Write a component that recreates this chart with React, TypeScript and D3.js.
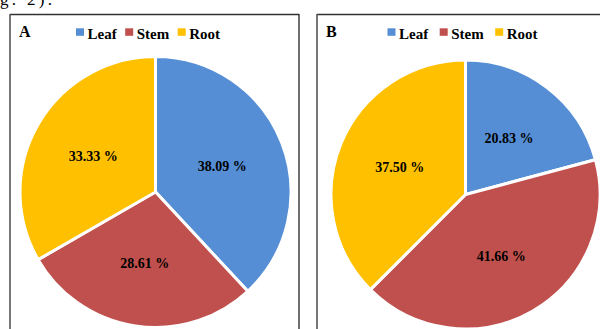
import React from "react";
import * as d3 from "d3";

const categories = ["Leaf", "Stem", "Root"];
const valuesA = [38.09, 28.61, 33.33];
const valuesB = [20.83, 41.66, 37.5];
const colors = ["#558ED5", "#C0504D", "#FFC000"];

const W = 600;
const H = 329;
const FONT = "'Liberation Serif', 'Times New Roman', serif";

type PanelProps = {
  letter: string;
  values: number[];
  left: number;
  right: number;
  cx: number;
  cy: number;
  r: number;
  legendX: number;
  legendGap: number;
};

const textW = (s: string) => {
  // approximate width of bold 15px serif text
  const m: Record<string, number> = { L: 10, e: 6.7, a: 7.5, f: 5, S: 8.3, t: 5, m: 12.5, R: 10.8, o: 7.5 };
  return s.split("").reduce((acc, c) => acc + (m[c] ?? 7.5), 0);
};

function Panel({ letter, values, left, right, cx, cy, r, legendX, legendGap }: PanelProps) {
  const pie = d3.pie<number>().sort(null).value((d) => d).startAngle(0).endAngle(2 * Math.PI);
  const arcs = pie(values);
  const arc = d3.arc<d3.PieArcDatum<number>>().innerRadius(0).outerRadius(r);
  const labelArc = d3.arc<d3.PieArcDatum<number>>().innerRadius(r * 0.53).outerRadius(r * 0.53);
  const fmt = d3.format(".2f");

  let lx = legendX;
  const legendItems = categories.map((c, i) => {
    const x = lx;
    lx += 12 + textW(c) + legendGap;
    return { c, i, x };
  });

  return (
    <g>
      <line x1={left} x2={right} y1={14.5} y2={14.5} stroke="#333" strokeWidth={1.3} />
      <line x1={left} x2={left} y1={14} y2={H} stroke="#555" strokeWidth={1.6} />
      <line x1={right} x2={right} y1={14} y2={H} stroke="#222" strokeWidth={1.3} />
      <text x={left + 9} y={37} fontFamily={FONT} fontWeight="bold" fontSize={16} fill="#000">
        {letter}
      </text>
      {legendItems.map(({ c, i, x }) => (
        <g key={c}>
          <rect x={x} y={28.3} width={8} height={7.5} fill={colors[i]} />
          <text x={x + 11.5} y={38.5} fontFamily={FONT} fontWeight="bold" fontSize={15} fill="#000">
            {c}
          </text>
        </g>
      ))}
      <g transform={`translate(${cx},${cy})`}>
        {arcs.map((a, i) => (
          <path key={i} d={arc(a) || ""} fill={colors[i]} stroke="#fff" strokeWidth={3} strokeLinejoin="miter" />
        ))}
        {arcs.map((a, i) => {
          const [x, y] = labelArc.centroid(a);
          return (
            <text
              key={"l" + i}
              x={x}
              y={y}
              dy="0.35em"
              textAnchor="middle"
              fontFamily={FONT}
              fontWeight="bold"
              fontSize={14}
              fill="#000"
            >
              {fmt(a.data) + " %"}
            </text>
          );
        })}
      </g>
    </g>
  );
}

export default function App() {
  return (
    <svg
      width={W}
      height={H}
      viewBox={`0 0 ${W} ${H}`}
      style={{ position: "absolute", left: 0, top: 0, background: "#fff" }}
    >
      <rect x={0} y={0} width={W} height={H} fill="#fff" />
      <text x={0} y={5} fontFamily={FONT} fontSize={17} fill="#000" textLength={52} lengthAdjust="spacing">
        g. 2).
      </text>
      <Panel letter="A" values={valuesA} left={10} right={299} cx={155.5} cy={192} r={135.5} legendX={76} legendGap={8} />
      <Panel letter="B" values={valuesB} left={317} right={601} cx={465.5} cy={194.5} r={134.5} legendX={387.5} legendGap={11} />
    </svg>
  );
}
